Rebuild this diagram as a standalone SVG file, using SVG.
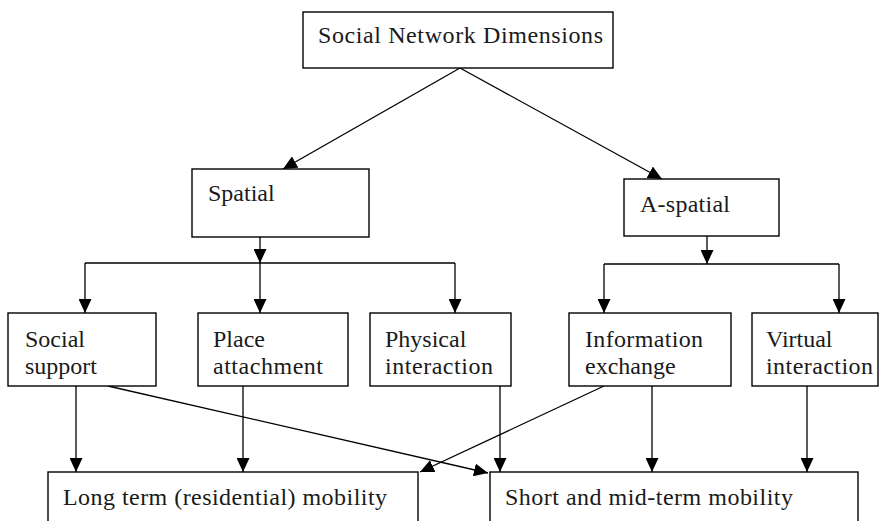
<svg xmlns="http://www.w3.org/2000/svg" width="880" height="521" viewBox="0 0 880 521" font-family="'Liberation Serif', 'Times New Roman', serif">
<defs>
<marker id="ah" markerUnits="userSpaceOnUse" markerWidth="14" markerHeight="13" refX="14" refY="6.5" orient="auto">
<path d="M0,0 L14,6.5 L0,13 z" fill="#000"/>
</marker>
<style>
rect{fill:#fff;stroke:#000;stroke-width:1.4}
text{font-family:'Liberation Serif','Times New Roman',serif;font-size:24px;fill:#1a1a1a}
.c line,.c path{stroke:#000;stroke-width:1.3;fill:none}
.a{marker-end:url(#ah)}
</style>
</defs>
<rect x="0" y="0" width="880" height="521" style="fill:#fff;stroke:none"/>
<g class="c" id="connectors">
<line class="a" x1="460" y1="68" x2="283" y2="169"/>
<line class="a" x1="460" y1="68" x2="662" y2="179"/>
<line class="a" x1="260" y1="237" x2="260" y2="263"/>
<path d="M85,263 H455"/>
<line class="a" x1="85" y1="263" x2="85" y2="313"/>
<line class="a" x1="260" y1="263" x2="260" y2="313"/>
<line class="a" x1="455" y1="263" x2="455" y2="313"/>
<line class="a" x1="707" y1="236" x2="707" y2="264"/>
<path d="M604,264 H839"/>
<line class="a" x1="604" y1="264" x2="604" y2="313"/>
<line class="a" x1="839" y1="264" x2="839" y2="313"/>
<line class="a" x1="76" y1="386" x2="76" y2="472"/>
<line class="a" x1="243" y1="386" x2="243" y2="472"/>
<line class="a" x1="500" y1="386" x2="500" y2="472"/>
<line class="a" x1="652" y1="386" x2="652" y2="472"/>
<line class="a" x1="807" y1="386" x2="807" y2="472"/>
<line class="a" x1="108" y1="386" x2="488" y2="473"/>
<line class="a" x1="604" y1="386" x2="420" y2="472"/>
</g>
<g id="n_top">
<rect x="303" y="12" width="310" height="56"/>
<text x="318" y="43" textLength="285" lengthAdjust="spacing">Social Network Dimensions</text>
</g>
<g id="n_spatial">
<rect x="192" y="169" width="177" height="68"/>
<text x="208" y="201">Spatial</text>
</g>
<g id="n_aspatial">
<rect x="624" y="179" width="155" height="57"/>
<text x="640" y="212" textLength="90" lengthAdjust="spacing">A-spatial</text>
</g>
<g id="n_social">
<rect x="8" y="313" width="148" height="73"/>
<text x="25" y="347">Social</text>
<text x="25" y="374">support</text>
</g>
<g id="n_place">
<rect x="198" y="313" width="150" height="73"/>
<text x="213" y="347">Place</text>
<text x="213" y="374" textLength="110" lengthAdjust="spacing">attachment</text>
</g>
<g id="n_physical">
<rect x="370" y="313" width="141" height="73"/>
<text x="385" y="347">Physical</text>
<text x="385" y="374" textLength="108" lengthAdjust="spacing">interaction</text>
</g>
<g id="n_info">
<rect x="569" y="313" width="162" height="73"/>
<text x="585" y="347" textLength="118" lengthAdjust="spacing">Information</text>
<text x="585" y="374">exchange</text>
</g>
<g id="n_virtual">
<rect x="752" y="313" width="126" height="73"/>
<text x="766" y="347">Virtual</text>
<text x="766" y="374" textLength="107" lengthAdjust="spacing">interaction</text>
</g>
<g id="n_long">
<rect x="48" y="472" width="370" height="60"/>
<text x="63" y="505" textLength="324" lengthAdjust="spacing">Long term (residential) mobility</text>
</g>
<g id="n_short">
<rect x="490" y="472" width="368" height="60"/>
<text x="505" y="505" textLength="288" lengthAdjust="spacing">Short and mid-term mobility</text>
</g>
</svg>
